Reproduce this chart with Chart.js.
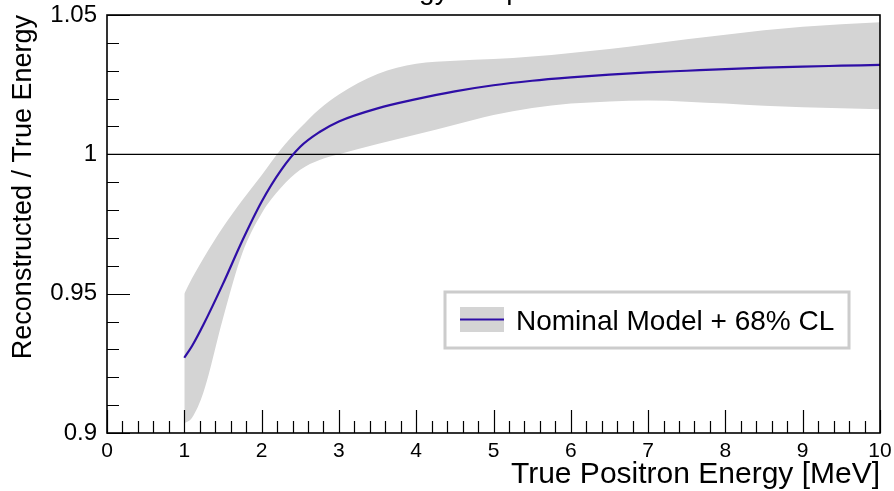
<!DOCTYPE html>
<html>
<head>
<meta charset="utf-8">
<script src="https://cdn.jsdelivr.net/npm/chart.js@4"></script>
<style>
  html, body { margin: 0; padding: 0; background: #fff; }
  canvas { display: block; }
</style>
</head>
<body>
<canvas id="response" width="894" height="491"></canvas>
<script>
// true positron energy [MeV]
const energy = [1, 1.1, 1.25, 1.5, 1.75, 2, 2.25, 2.5, 2.75, 3, 3.5, 4, 4.5, 5, 5.5, 6, 6.5, 7, 7.5, 8, 8.5, 9, 9.5, 10];
// reconstructed / true, nominal model
const nominal = [0.927, 0.9312, 0.939, 0.9535, 0.969, 0.983, 0.99425, 1.0027, 1.0080, 1.0118, 1.0165, 1.0198, 1.0226, 1.0248, 1.0264, 1.0276, 1.0286, 1.0294, 1.0300, 1.0306, 1.0311, 1.0315, 1.0318, 1.0321];
// 68% CL band edges
const bandHigh = [0.950, 0.9555, 0.9628, 0.9738, 0.9835, 0.9925, 1.0018, 1.0095, 1.0163, 1.0215, 1.0288, 1.0325, 1.0336, 1.0342, 1.0351, 1.0364, 1.0378, 1.0395, 1.0413, 1.0429, 1.0445, 1.0458, 1.0467, 1.0474];
const bandLow = [0.9035, 0.9055, 0.9148, 0.9411, 0.9645, 0.9788, 0.9880, 0.9945, 0.9980, 1.0000, 1.0037, 1.0071, 1.0106, 1.0141, 1.0166, 1.0182, 1.0190, 1.0193, 1.0189, 1.0182, 1.0174, 1.0169, 1.0165, 1.0162];
// unity reference
const unityX = [0, 10];
const unityY = [1, 1];

const xRange = [0, 10];
const yRange = [0.9, 1.05];
const xMajorStep = 1, xMinorStep = 0.2;
const yMajorStep = 0.05, yMinorStep = 0.01;

const titleText = 'Positron Energy Response Model';
const xTitle = 'True Positron Energy [MeV]';
const yTitle = 'Reconstructed / True Energy';
const legendText = 'Nominal Model + 68% CL';

const FONT = "'Liberation Sans', Arial, sans-serif";
const LINE_COLOR = '#2e0ea6';
const BAND_COLOR = '#d4d4d4';

const pts = (xs, ys) => xs.map((v, i) => ({ x: v, y: ys[i] }));

// ROOT-style frame with inward ticks, plus title and legend box
const frameTicks = {
  id: 'frameTicks',
  afterDatasetsDraw(chart) {
    const { ctx, chartArea: a, scales: { x, y } } = chart;
    ctx.save();
    ctx.strokeStyle = '#000';
    ctx.lineWidth = 1.2;
    ctx.beginPath();
    const nx = Math.round((xRange[1] - xRange[0]) / xMinorStep);
    const perX = Math.round(xMajorStep / xMinorStep);
    for (let i = 0; i <= nx; i++) {
      const px = Math.round(x.getPixelForValue(xRange[0] + i * xMinorStep)) + 0.5;
      const len = i % perX === 0 ? 23 : 12;
      ctx.moveTo(px, a.bottom);
      ctx.lineTo(px, a.bottom - len);
    }
    const ny = Math.round((yRange[1] - yRange[0]) / yMinorStep);
    const perY = Math.round(yMajorStep / yMinorStep);
    for (let i = 0; i <= ny; i++) {
      const py = Math.round(y.getPixelForValue(yRange[0] + i * yMinorStep)) + 0.5;
      const len = i % perY === 0 ? 23 : 12;
      ctx.moveTo(a.left, py);
      ctx.lineTo(a.left + len, py);
    }
    ctx.stroke();
    ctx.lineWidth = 1.6;
    ctx.strokeRect(a.left, a.top, a.right - a.left, a.bottom - a.top);
    ctx.restore();
  },
  afterDraw(chart) {
    const { ctx } = chart;
    ctx.save();
    // page title sits above the top edge, only descenders show
    ctx.fillStyle = '#000';
    ctx.font = '28px ' + FONT;
    ctx.textAlign = 'center';
    ctx.textBaseline = 'alphabetic';
    ctx.fillText(titleText, 458, -1);

    // legend box
    const bx = 445, by = 292, bw = 404, bh = 56;
    ctx.fillStyle = '#fff';
    ctx.fillRect(bx, by, bw, bh);
    ctx.strokeStyle = '#cccccc';
    ctx.lineWidth = 3;
    ctx.strokeRect(bx, by, bw, bh);
    ctx.fillStyle = BAND_COLOR;
    ctx.fillRect(460, 307, 44, 25);
    ctx.strokeStyle = LINE_COLOR;
    ctx.lineWidth = 2;
    ctx.beginPath();
    ctx.moveTo(460, 319.5);
    ctx.lineTo(504, 319.5);
    ctx.stroke();
    ctx.fillStyle = '#000';
    ctx.font = '28px ' + FONT;
    ctx.textAlign = 'left';
    ctx.fillText(legendText, 516, 330);
    ctx.restore();
  }
};

new Chart(document.getElementById('response'), {
  type: 'line',
  data: {
    datasets: [
      {
        label: 'nominal',
        data: pts(energy, nominal),
        borderColor: LINE_COLOR,
        borderWidth: 2.2,
        pointRadius: 0,
        cubicInterpolationMode: 'monotone',
        fill: false,
        order: 0
      },
      {
        label: 'unity',
        data: pts(unityX, unityY),
        borderColor: '#000',
        borderWidth: 1.2,
        pointRadius: 0,
        fill: false,
        order: 1
      },
      {
        label: 'band low',
        data: pts(energy, bandLow),
        borderWidth: 0,
        borderColor: 'rgba(0,0,0,0)',
        pointRadius: 0,
        cubicInterpolationMode: 'monotone',
        fill: false,
        order: 3
      },
      {
        label: 'band high',
        data: pts(energy, bandHigh),
        borderWidth: 0,
        borderColor: 'rgba(0,0,0,0)',
        backgroundColor: BAND_COLOR,
        pointRadius: 0,
        cubicInterpolationMode: 'monotone',
        fill: '-1',
        order: 2
      }
    ]
  },
  options: {
    responsive: false,
    animation: false,
    devicePixelRatio: 1,
    layout: { padding: { top: 15, right: 14, left: 0, bottom: 0 } },
    plugins: {
      legend: { display: false },
      tooltip: { enabled: false },
      filler: { propagate: false }
    },
    scales: {
      x: {
        type: 'linear',
        min: xRange[0],
        max: xRange[1],
        border: { display: false },
        grid: { display: false, drawTicks: false },
        ticks: {
          stepSize: xMajorStep,
          autoSkip: false,
          maxRotation: 0,
          padding: 6,
          color: '#000',
          font: { family: FONT, size: 21 }
        },
        title: {
          display: true,
          text: xTitle,
          align: 'end',
          color: '#000',
          font: { family: FONT, size: 30, lineHeight: 1 },
          padding: { top: 0, bottom: 1 }
        },
        afterFit(scale) {
          scale.height = 58;
          scale.paddingLeft = 0;
          scale.paddingRight = 0;
        }
      },
      y: {
        type: 'linear',
        min: yRange[0],
        max: yRange[1],
        border: { display: false },
        grid: { display: false, drawTicks: false },
        ticks: {
          stepSize: yMajorStep,
          autoSkip: false,
          padding: 10,
          color: '#000',
          font: { family: FONT, size: 24 },
          callback: v => String(parseFloat(v.toFixed(2)))
        },
        title: {
          display: true,
          text: yTitle,
          align: 'end',
          color: '#000',
          font: { family: FONT, size: 27, lineHeight: 1 },
          padding: { top: 10, bottom: 0 }
        },
        afterFit(scale) {
          scale.width = 107;
          scale.paddingTop = 0;
          scale.paddingBottom = 0;
        }
      }
    }
  },
  plugins: [frameTicks]
});
</script>
</body>
</html>
